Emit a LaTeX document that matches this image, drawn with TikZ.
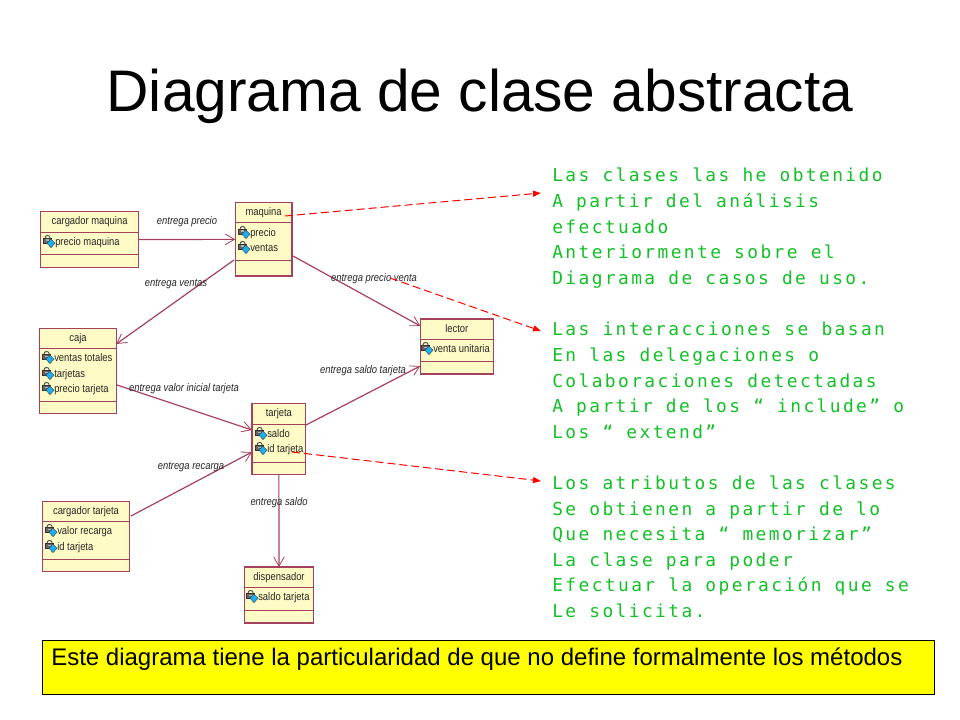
\documentclass[tikz,border=0pt]{standalone}
\usepackage{fontspec}
\setmainfont{Liberation Sans}
\newfontfamily\greenmono[LetterSpace=13.5]{DejaVu Sans Mono}
\newfontfamily\umlfont[FakeStretch=0.85]{Liberation Sans}
\usetikzlibrary{arrows.meta,calc}
\definecolor{umlline}{HTML}{A5405F}
\definecolor{umlfill}{HTML}{FFFBC6}
\definecolor{notegreen}{HTML}{14C028}
\definecolor{noteyellow}{HTML}{FFFF00}
\definecolor{checkblue}{HTML}{18B0F0}
\tikzset{
  x=0.75pt,y=-0.75pt,
  classbox/.style={draw=umlline,fill=umlfill,line width=1pt,inner sep=0pt,outer sep=0pt},
  classname/.style={font=\umlfont\fontsize{8.3}{10}\selectfont,text=black!85,inner sep=0pt},
  attrtext/.style={font=\umlfont\fontsize{8.3}{10}\selectfont,text=black!85,inner sep=0pt,anchor=base west},
  assoc/.style={draw=umlline,line width=0.9pt,-{Straight Barb[length=7pt,width=8pt,line width=0.6pt]}},
  assoclabel/.style={font=\umlfont\itshape\fontsize{8.3}{10}\selectfont,text=black!85,inner sep=0pt},
  note/.style={draw=red,line width=0.75pt,dash pattern=on 6pt off 3pt,-{Triangle[length=6pt,width=4.5pt]}},
  notetext/.style={font=\greenmono\fontsize{13.4}{19.2}\selectfont,text=notegreen,inner sep=0pt,anchor=north west,align=left},
}
\newcommand{\umlclass}[8]{% name x1 y1 x2 y2 div1 div2 title
  \pgfmathsetmacro{\bw}{(#4-#2)*0.75}
  \pgfmathsetmacro{\bh}{(#5-#3)*0.75}
  \node[classbox,minimum width=\bw pt,minimum height=\bh pt] (#1) at ({(#2+#4)/2},{(#3+#5)/2}) {};
  \draw[umlline,line width=0.75pt] (#2,#6) -- (#4,#6) (#2,#7) -- (#4,#7);
  \node[classname] (#1t) at ({(#2+#4)/2},{(#3+#6)/2}) {#8};
}
\newcommand{\umlattr}[4]{% name x y text
  \draw[black!70,line width=0.7pt] (#2-10,#3-4) arc[start angle=180,end angle=360,radius=2.6];
  \fill[black!60,draw=black!80,line width=0.25pt] (#2-11.5,#3-4) rectangle (#2-4,#3+1);
  \fill[white!70!black] (#2-9.5,#3-2.5) rectangle (#2-6,#3-0.8);
  \fill[checkblue,draw=black!75,line width=0.3pt] (#2-4,#3-3) -- (#2,#3+1.3) -- (#2-4,#3+5.6) -- (#2-8,#3+1.3) -- cycle;
  \node[attrtext] (#1) at (#2,#3+3.6) {#4};
}
\begin{document}
\begin{tikzpicture}
\useasboundingbox (0,0) rectangle (960,720);
\fill[white] (0,0) rectangle (960,720);

\node[inner sep=0pt,font=\fontsize{44}{50}\selectfont] (title) at (480,96) {Diagrama de clase abstracta};

\umlclass{cm}{40.5}{211.7}{138.7}{267.3}{232.3}{255}{cargador maquina}
\umlclass{maq}{235.3}{202.7}{292}{276}{222.7}{260.7}{maquina}
\umlclass{caja}{39.7}{328.3}{116.3}{413.7}{348}{401.3}{caja}
\umlclass{tar}{252}{403.7}{305.7}{474.7}{424.3}{462.3}{tarjeta}
\umlclass{lec}{420.3}{319}{493.3}{374}{339}{361.7}{lector}
\umlclass{ct}{42.3}{501.3}{129.7}{571.7}{521.3}{559.3}{cargador tarjeta}
\umlclass{dis}{244.3}{567}{313.7}{623}{587.7}{610.7}{dispensador}

\umlattr{a1}{55}{242}{precio maquina}
\umlattr{a2}{250}{233}{precio}
\umlattr{a3}{250}{248}{ventas}
\umlattr{a4}{54}{358}{ventas totales}
\umlattr{a5}{54}{374}{tarjetas}
\umlattr{a6}{54}{389}{precio tarjeta}
\umlattr{a7}{267}{434}{saldo}
\umlattr{a8}{267}{449}{id tarjeta}
\umlattr{a9}{433}{349}{venta unitaria}
\umlattr{a10}{57}{531}{valor recarga}
\umlattr{a11}{57}{547}{id tarjeta}
\umlattr{a12}{258}{597}{saldo tarjeta}

\coordinate (bs) at (234,260); \coordinate (be) at (116.3,344);
\coordinate (cs) at (293,256); \coordinate (ce) at (420.3,326);
\coordinate (ds) at (117,385); \coordinate (de) at (252,430);
\coordinate (es) at (306,425); \coordinate (ee) at (420.3,366);
\coordinate (fs) at (131,516); \coordinate (fe) at (252,452);

\draw[assoc] (cm.east) -- (maq.west);
\draw[assoc] (bs) -- (be);
\draw[assoc] (cs) -- (ce);
\draw[assoc] (ds) -- (de);
\draw[assoc] (es) -- (ee);
\draw[assoc] (fs) -- (fe);
\draw[assoc] (tar.south) -- (dis.north);

\node[assoclabel] (l1) at (187,222) {entrega precio};
\node[assoclabel] (l2) at (176,284) {entrega ventas};
\node[assoclabel] (l3) at (184,389) {entrega valor inicial tarjeta};
\node[assoclabel] (l4) at (374,279) {entrega precio venta};
\node[assoclabel] (l5) at (363,371) {entrega saldo tarjeta};
\node[assoclabel] (l6) at (191,467) {entrega recarga};
\node[assoclabel] (l7) at (279,503) {entrega saldo};

\node[notetext] (n1) at (552,168) {Las clases las he obtenido\\A partir del análisis\\efectuado\\Anteriormente sobre el\\Diagrama de casos de uso.};
\node[notetext] (n2) at (552,322) {Las interacciones se basan\\En las delegaciones o\\Colaboraciones detectadas\\A partir de los “ include” o\\Los “ extend”};
\node[notetext] (n3) at (552,475.5) {Los atributos de las clases\\Se obtienen a partir de lo\\Que necesita “ memorizar”\\La clase para poder\\Efectuar la operación que se\\Le solicita.};

\coordinate (n1s) at (285,216); \coordinate (n1e) at (541,193);
\coordinate (n2s) at (390,278); \coordinate (n2e) at (541,331);
\coordinate (n3s) at (292,452); \coordinate (n3e) at (541,481);
\draw[note] (n1s) -- (n1e);
\draw[note] (n2s) -- (n2e);
\draw[note] (n3s) -- (n3e);

\node[draw=black,fill=noteyellow,line width=0.75pt,inner sep=0pt,outer sep=0pt,minimum width=669pt,minimum height=40.5pt] (foot) at (488,667) {};
\node[inner sep=0pt,anchor=base west,font=\fontsize{18}{21}\selectfont] (foottext) at (51,665.5) {Este diagrama tiene la particularidad de que no define formalmente los métodos};
\end{tikzpicture}
\end{document}
